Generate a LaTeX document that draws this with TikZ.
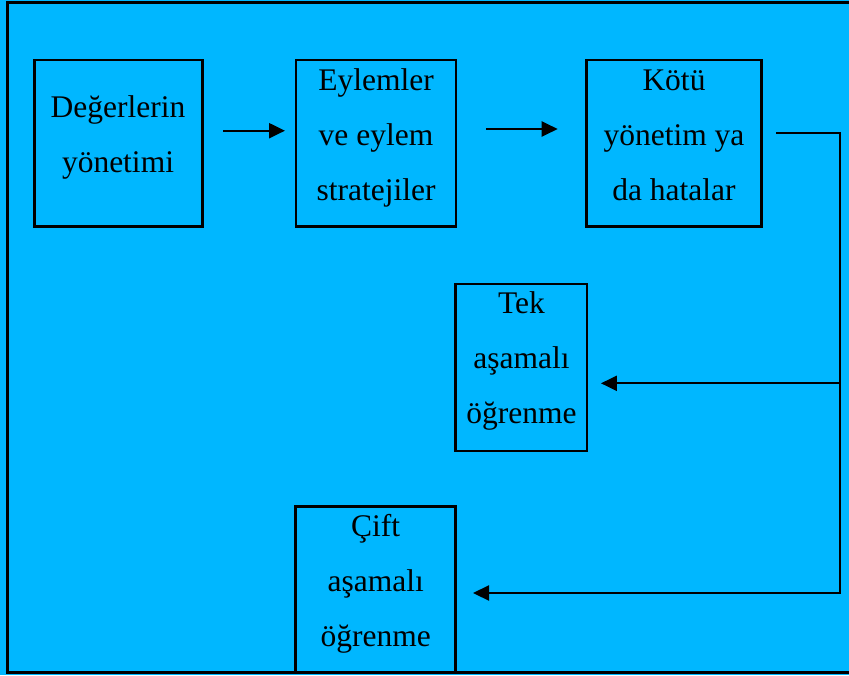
\documentclass[tikz,border=0pt]{standalone}
\usepackage{fontspec}
\setmainfont{Liberation Serif}
\usetikzlibrary{arrows.meta}
\definecolor{bgblue}{RGB}{0,183,255}
\tikzset{
  boxnode/.style={draw=black, line width=2.7pt, inner sep=0pt, outer sep=0pt},
  txt/.style={anchor=north, align=center, inner sep=0pt, text=black,
    font=\fontsize{31.5}{55}\selectfont},
  conn/.style={draw=black, line width=2.2pt},
  arr/.style={conn, -{Triangle[length=16pt,width=15pt]}}
}
\begin{document}
\begin{tikzpicture}[x=1pt,y=-1pt]
\useasboundingbox (0,0) rectangle (849,675);
\fill[bgblue] (0,0) rectangle (849,675);
\draw[line width=3pt] (860,2.7) -- (7.5,2.7) -- (7.5,672.8) -- (860,672.8);
\clip (0,0) rectangle (849,675);

\node[boxnode, minimum width=167.6pt, minimum height=166.7pt] (b1) at (118.5,143.3) {};
\node[boxnode, minimum width=160pt, minimum height=166.7pt] (b2) at (376,143.3) {};
\node[boxnode, minimum width=174.6pt, minimum height=166.7pt] (b3) at (674,143.3) {};
\node[boxnode, minimum width=131.3pt, minimum height=167pt] (tek) at (521.3,367.5) {};
\node[boxnode, minimum width=160pt, minimum height=166pt] (cift) at (375.7,589.7) {};

\node[txt] (t1) at (118,92) {\rule{0pt}{25pt}Değerlerin\\yönetimi};
\node[txt] (t2) at (376,65) {\rule{0pt}{25pt}Eylemler\\ve eylem\\stratejiler};
\node[txt] (t3) at (674,65) {\rule{0pt}{25pt}Kötü\\yönetim ya\\da hatalar};
\node[txt] (t4) at (521.5,288) {\rule{0pt}{25pt}Tek\\aşamalı\\öğrenme};
\node[txt] (t5) at (375.7,511.7) {\rule{0pt}{25pt}Çift\\aşamalı\\öğrenme};

\coordinate (corner) at (840,132.7);
\coordinate (j1) at (840,383.3);
\coordinate (j2) at (840,593);

\draw[arr, shorten <=21pt, shorten >=11pt] ([yshift=12.6pt]b1.east) -- ([yshift=12.6pt]b2.west);
\draw[arr, shorten <=30pt, shorten >=29pt] ([yshift=14.3pt]b2.east) -- ([yshift=14.3pt]b3.west);
\draw[arr, shorten <=14.7pt, shorten >=17.3pt, line join=miter] (b3.east |- corner) -- (corner) -- (j2) -- (cift.east |- j2);
\draw[arr, shorten >=14pt] (j1) -- (tek.east |- j1);
\end{tikzpicture}
\end{document}
